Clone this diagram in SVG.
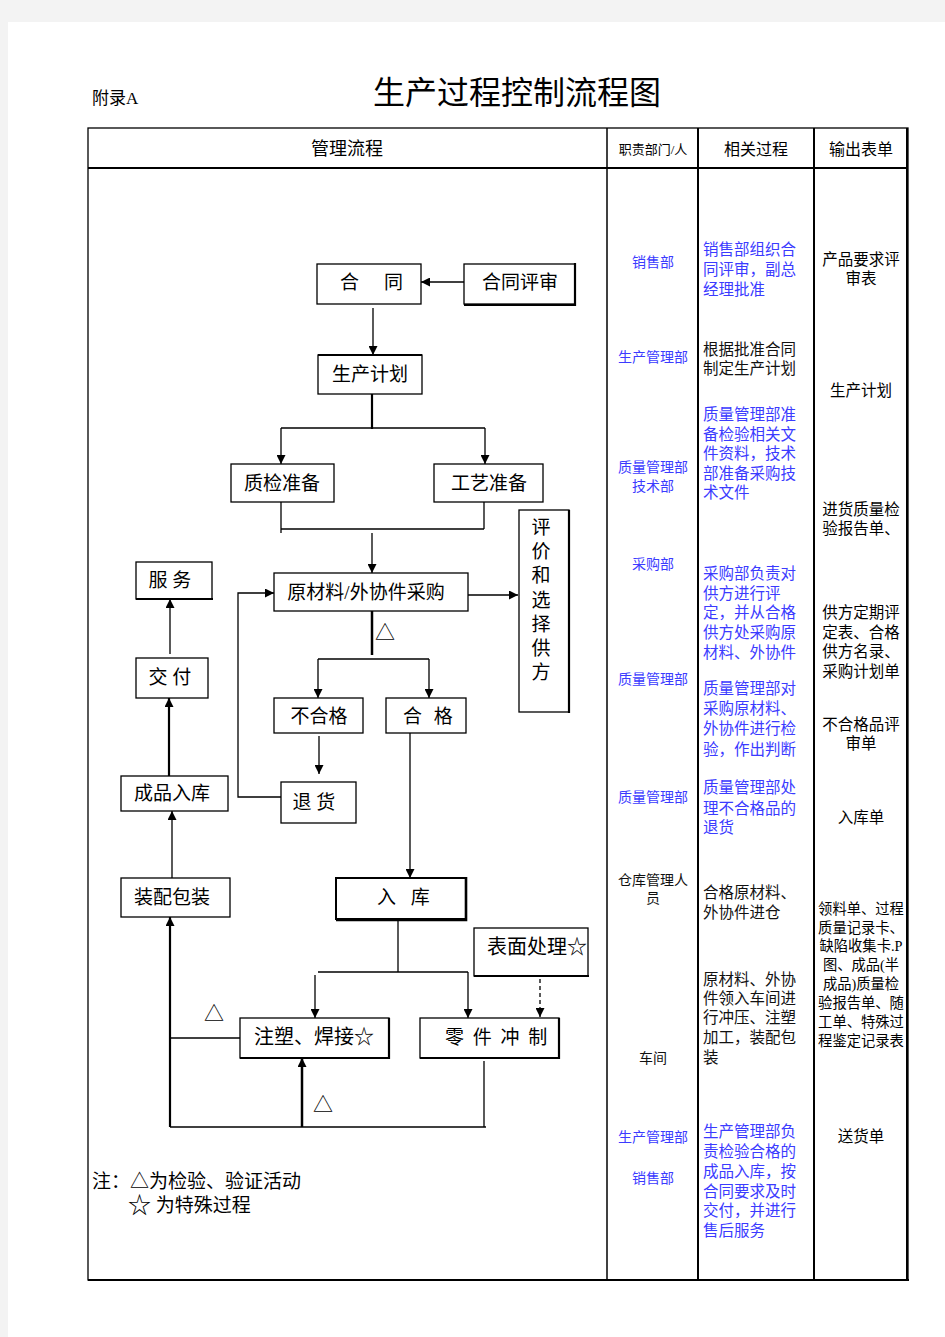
<svg xmlns="http://www.w3.org/2000/svg" width="945" height="1337" viewBox="0 0 945 1337">
<style>
text{font-family:'Liberation Serif','Noto Sans CJK SC',serif;fill:#000;dominant-baseline:central}
.c{text-anchor:middle}
.bx{fill:#fff;stroke:#000;stroke-width:1.3}
.ln{fill:none;stroke:#000;stroke-width:1.3}
.th{fill:none;stroke:#000;stroke-width:2.2}
.n{font-size:19px}
.d{font-size:14px;text-anchor:middle;fill:#3b3bff}
.dk{font-size:14px;text-anchor:middle;fill:#111}
.p{font-size:15.5px;fill:#3b3bff}
.pk{font-size:15.5px;fill:#111}
.o{font-size:15.5px;text-anchor:middle}
.o2{font-size:14.3px;text-anchor:middle}
</style>
<defs>
<marker id="ah" viewBox="0 0 10 10" refX="10" refY="5" markerWidth="9" markerHeight="9" markerUnits="userSpaceOnUse" orient="auto"><path d="M0,0 L10,5 L0,10 z" fill="#000"/></marker>
</defs>
<rect x="0" y="0" width="945" height="1337" fill="#f3f3f3"/>
<rect x="8" y="22" width="937" height="1315" fill="#fff"/>

<g id="header">
<text x="92" y="98" style="font-size:17px">附录A</text>
<text x="373" y="93" style="font-size:32px">生产过程控制流程图</text>
</g>

<g id="table">
<rect x="88" y="128" width="820" height="1152" fill="none" stroke="#000" stroke-width="1.3"/>
<line x1="907" y1="128" x2="907" y2="1281" stroke="#000" stroke-width="2"/>
<line x1="88" y1="1280" x2="909" y2="1280" stroke="#000" stroke-width="2.2"/>
<line x1="88" y1="168" x2="908" y2="168" stroke="#000" stroke-width="2"/>
<line x1="607" y1="128" x2="607" y2="1280" stroke="#000" stroke-width="1.5"/>
<line x1="698" y1="128" x2="698" y2="1280" stroke="#000" stroke-width="2"/>
<line x1="814" y1="128" x2="814" y2="1280" stroke="#000" stroke-width="2"/>
<text class="c" x="347" y="149" style="font-size:18px">管理流程</text>
<text class="c" x="653" y="149" style="font-size:13px">职责部门/人</text>
<text class="c" x="756" y="149" style="font-size:16px">相关过程</text>
<text class="c" x="861" y="149" style="font-size:16px">输出表单</text>
</g>

<g id="connectors">
<line class="ln" x1="465" y1="282" x2="421" y2="282" marker-end="url(#ah)"/>
<line class="ln" x1="373" y1="308" x2="373" y2="355" marker-end="url(#ah)"/>
<line class="th" x1="372" y1="394" x2="372" y2="429"/>
<line class="ln" x1="281" y1="428" x2="485" y2="428"/>
<line class="ln" x1="281" y1="428" x2="281" y2="464" marker-end="url(#ah)"/>
<line class="ln" x1="485" y1="428" x2="485" y2="464" marker-end="url(#ah)"/>
<line class="ln" x1="281" y1="502" x2="281" y2="533"/>
<line class="ln" x1="484" y1="502" x2="484" y2="529"/>
<line class="ln" x1="281" y1="529" x2="484" y2="529"/>
<line class="ln" x1="372" y1="533" x2="372" y2="573" marker-end="url(#ah)"/>
<line class="ln" x1="468" y1="595" x2="518" y2="595" marker-end="url(#ah)"/>
<line x1="372" y1="611" x2="372" y2="655" stroke="#000" stroke-width="2.5"/>
<line class="ln" x1="318" y1="659" x2="429" y2="659"/>
<line class="ln" x1="318" y1="659" x2="318" y2="698" marker-end="url(#ah)"/>
<line class="ln" x1="429" y1="659" x2="429" y2="698" marker-end="url(#ah)"/>
<line class="ln" x1="319" y1="736" x2="319" y2="774" marker-end="url(#ah)"/>
<polyline class="ln" points="281,797 238,797 238,593 274,593" marker-end="url(#ah)"/>
<line class="ln" x1="410" y1="733" x2="410" y2="878" marker-end="url(#ah)"/>
<line class="ln" x1="170" y1="654" x2="170" y2="599" marker-end="url(#ah)"/>
<line class="th" x1="169" y1="776" x2="169" y2="698" marker-end="url(#ah)"/>
<line class="ln" x1="172" y1="878" x2="172" y2="811" marker-end="url(#ah)"/>
<line class="ln" x1="398" y1="919" x2="398" y2="972"/>
<line class="ln" x1="318" y1="972" x2="468" y2="972"/>
<line class="ln" x1="315" y1="975" x2="315" y2="1018" marker-end="url(#ah)"/>
<line class="ln" x1="468" y1="972" x2="468" y2="1018" marker-end="url(#ah)"/>
<line class="ln" x1="540" y1="979" x2="540" y2="1017" stroke-dasharray="4,3" marker-end="url(#ah)"/>
<line class="ln" x1="240" y1="1038" x2="170" y2="1038"/>
<line class="th" x1="170" y1="1127" x2="170" y2="917" marker-end="url(#ah)"/>
<line class="ln" x1="170" y1="1127" x2="486" y2="1127"/>
<line class="ln" x1="484" y1="1061" x2="484" y2="1127"/>
<line x1="302" y1="1127" x2="302" y2="1058" stroke="#000" stroke-width="2.5" marker-end="url(#ah)"/>
<text class="c" x="385" y="633" style="font-size:20px">△</text>
<text class="c" x="214" y="1014" style="font-size:20px">△</text>
<text class="c" x="323" y="1105" style="font-size:20px">△</text>
</g>

<g id="n-hetong"><rect class="bx" x="317" y="264" width="104" height="40"/><text x="340" y="282" class="n" style="letter-spacing:3px">合　同</text></g>
<g id="n-hetongpingshen"><rect class="bx" x="464" y="264" width="111" height="40"/><path class="th" d="M575,263 V305 H464"/><text class="c n" x="520" y="282">合同评审</text></g>
<g id="n-shengchanjihua"><rect class="bx" x="318" y="355" width="104" height="39"/><line class="th" x1="318" y1="355" x2="422" y2="355"/><text class="c n" x="370" y="374">生产计划</text></g>
<g id="n-zhijian"><rect class="bx" x="231" y="464" width="103" height="38"/><text class="c n" x="282" y="483">质检准备</text></g>
<g id="n-gongyi"><rect class="bx" x="434" y="464" width="109" height="38"/><text class="c n" x="489" y="483">工艺准备</text></g>
<g id="n-pingjia"><rect class="bx" x="519" y="510" width="50" height="202"/><line class="th" x1="569" y1="510" x2="569" y2="713"/>
<text class="c n" x="541" y="527">评</text><text class="c n" x="541" y="551">价</text><text class="c n" x="541" y="575">和</text><text class="c n" x="541" y="600">选</text><text class="c n" x="541" y="624">择</text><text class="c n" x="541" y="648">供</text><text class="c n" x="541" y="672">方</text></g>
<g id="n-caigou"><rect class="bx" x="274" y="573" width="194" height="38"/><text class="c n" x="366" y="592">原材料/外协件采购</text></g>
<g id="n-fuwu"><rect class="bx" x="136" y="562" width="76" height="37"/><line class="th" x1="136" y1="599" x2="213" y2="599"/><text class="c n" x="170" y="580">服 务</text></g>
<g id="n-jiaofu"><rect class="bx" x="136" y="658" width="72" height="40"/><text class="c n" x="170" y="677">交 付</text></g>
<g id="n-chengpinruku"><rect class="bx" x="121" y="776" width="107" height="35"/><text class="c n" x="172" y="793">成品入库</text></g>
<g id="n-buhege"><rect class="bx" x="274" y="698" width="89" height="35"/><text class="c n" x="319" y="716">不合格</text></g>
<g id="n-hege"><rect class="bx" x="386" y="698" width="80" height="35"/><text x="403" y="716" class="n" style="letter-spacing:3.5px">合 格</text></g>
<g id="n-tuihuo"><rect class="bx" x="281" y="782" width="75" height="41"/><text class="c n" x="314" y="802">退 货</text></g>
<g id="n-zhuangpei"><rect class="bx" x="121" y="878" width="109" height="39"/><text class="c n" x="172" y="897">装配包装</text></g>
<g id="n-ruku"><rect x="336" y="878" width="130" height="41" fill="#fff" stroke="#000" stroke-width="2"/><path d="M466,877 V920 H336" fill="none" stroke="#000" stroke-width="2.6"/><text x="377" y="897" class="n" style="letter-spacing:5px">入 库</text></g>
<g id="n-biaomian"><rect class="bx" x="474" y="928" width="114" height="48"/><line class="th" x1="474" y1="976" x2="589" y2="976"/><text x="487" y="947" style="font-size:20px">表面处理☆</text></g>
<g id="n-zhusu"><rect class="bx" x="240" y="1018" width="149" height="40"/><path class="th" d="M389,1018 V1058 H240"/><text class="c" x="314" y="1037" style="font-size:20px">注塑、焊接☆</text></g>
<g id="n-lingjian"><rect class="bx" x="420" y="1018" width="139" height="40"/><path class="th" d="M559,1018 V1058 H420"/><text x="445" y="1037" class="n" style="letter-spacing:2px">零 件 冲 制</text></g>

<g id="notes">
<text x="92" y="1181" style="font-size:19px">注：△为检验、验证活动</text>
<text x="128" y="1205" style="font-size:19px"><tspan style="font-size:23px">☆</tspan> 为特殊过程</text>
</g>

<g id="col-dept">
<text class="d" x="653" y="262">销售部</text>
<text class="d" x="653" y="357">生产管理部</text>
<text class="d" x="653" y="467">质量管理部</text>
<text class="d" x="653" y="486">技术部</text>
<text class="d" x="653" y="564">采购部</text>
<text class="d" x="653" y="679">质量管理部</text>
<text class="d" x="653" y="797">质量管理部</text>
<text class="dk" x="653" y="880">仓库管理人</text>
<text class="dk" x="653" y="898">员</text>
<text class="dk" x="653" y="1058">车间</text>
<text class="d" x="653" y="1137">生产管理部</text>
<text class="d" x="653" y="1178">销售部</text>
</g>

<g id="col-process">
<text class="p" x="703" y="249">销售部组织合</text>
<text class="p" x="703" y="269">同评审，副总</text>
<text class="p" x="703" y="289">经理批准</text>
<text class="pk" x="703" y="349">根据批准合同</text>
<text class="pk" x="703" y="368">制定生产计划</text>
<text class="p" x="703" y="414">质量管理部准</text>
<text class="p" x="703" y="434">备检验相关文</text>
<text class="p" x="703" y="453">件资料，技术</text>
<text class="p" x="703" y="473">部准备采购技</text>
<text class="p" x="703" y="492">术文件</text>
<text class="p" x="703" y="573">采购部负责对</text>
<text class="p" x="703" y="593">供方进行评</text>
<text class="p" x="703" y="612">定，并从合格</text>
<text class="p" x="703" y="632">供方处采购原</text>
<text class="p" x="703" y="652">材料、外协件</text>
<text class="p" x="703" y="688">质量管理部对</text>
<text class="p" x="703" y="708">采购原材料、</text>
<text class="p" x="703" y="728">外协件进行检</text>
<text class="p" x="703" y="749">验，作出判断</text>
<text class="p" x="703" y="787">质量管理部处</text>
<text class="p" x="703" y="808">理不合格品的</text>
<text class="p" x="703" y="827">退货</text>
<text class="pk" x="703" y="892">合格原材料、</text>
<text class="pk" x="703" y="912">外协件进仓</text>
<text class="pk" x="703" y="979">原材料、外协</text>
<text class="pk" x="703" y="998">件领入车间进</text>
<text class="pk" x="703" y="1017">行冲压、注塑</text>
<text class="pk" x="703" y="1037">加工，装配包</text>
<text class="pk" x="703" y="1057">装</text>
<text class="p" x="703" y="1131">生产管理部负</text>
<text class="p" x="703" y="1151">责检验合格的</text>
<text class="p" x="703" y="1171">成品入库，按</text>
<text class="p" x="703" y="1191">合同要求及时</text>
<text class="p" x="703" y="1210">交付，并进行</text>
<text class="p" x="703" y="1230">售后服务</text>
</g>

<g id="col-output">
<text class="o" x="861" y="259">产品要求评</text>
<text class="o" x="861" y="278">审表</text>
<text class="o" x="861" y="390">生产计划</text>
<text class="o" x="861" y="509">进货质量检</text>
<text class="o" x="861" y="528">验报告单、</text>
<text class="o" x="861" y="612">供方定期评</text>
<text class="o" x="861" y="632">定表、合格</text>
<text class="o" x="861" y="651">供方名录、</text>
<text class="o" x="861" y="671">采购计划单</text>
<text class="o" x="861" y="724">不合格品评</text>
<text class="o" x="861" y="743">审单</text>
<text class="o" x="861" y="817">入库单</text>
<text class="o2" x="861" y="909">领料单、过程</text>
<text class="o2" x="861" y="928">质量记录卡、</text>
<text class="o2" x="861" y="946">缺陷收集卡.P</text>
<text class="o2" x="861" y="965">图、成品(半</text>
<text class="o2" x="861" y="984">成品)质量检</text>
<text class="o2" x="861" y="1003">验报告单、随</text>
<text class="o2" x="861" y="1022">工单、特殊过</text>
<text class="o2" x="861" y="1041">程鉴定记录表</text>
<text class="o" x="861" y="1136">送货单</text>
</g>
</svg>
